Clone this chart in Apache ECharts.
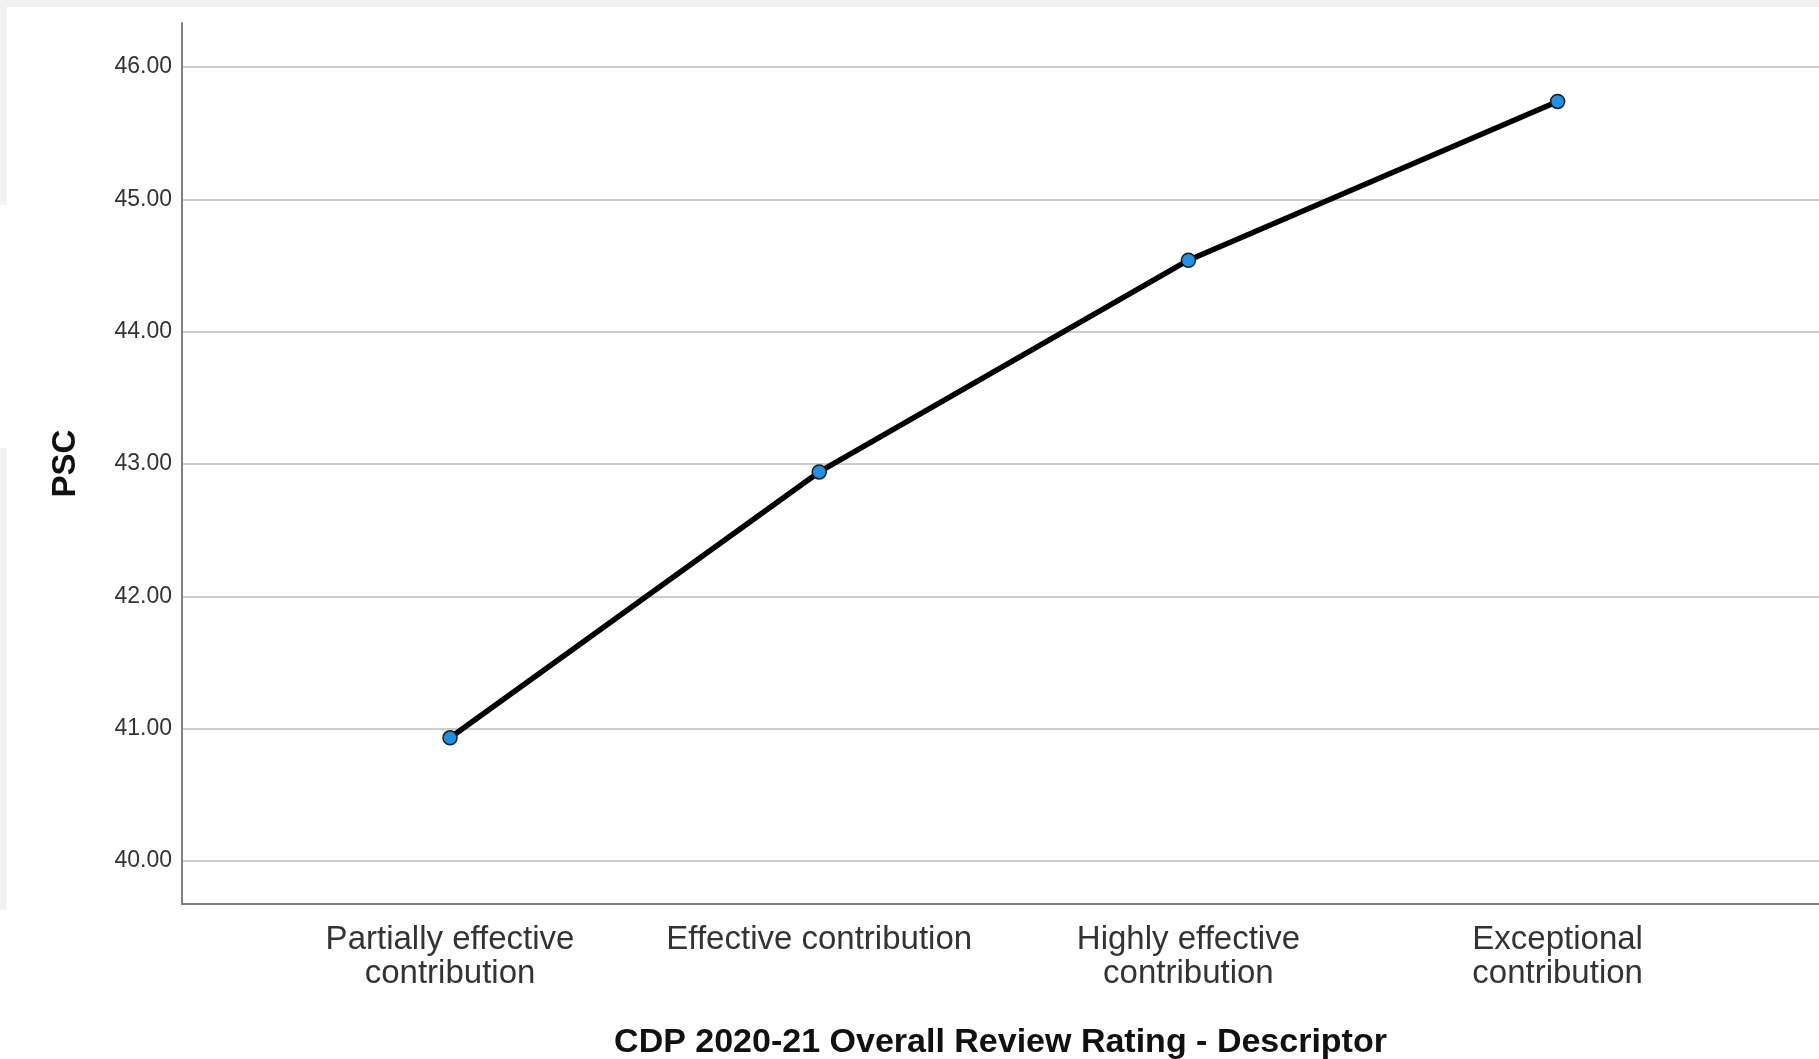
<!DOCTYPE html>
<html>
<head>
<meta charset="utf-8">
<script src="https://cdn.jsdelivr.net/npm/echarts@6/dist/echarts.min.js"></script>
<style>
html,body{margin:0;padding:0;background:#fff;}
#c{width:1819px;height:1059px;}
</style>
</head>
<body>
<div id="c"></div>
<script>
const categories = ['Partially effective\ncontribution', 'Effective contribution', 'Highly effective\ncontribution', 'Exceptional\ncontribution'];
const pscValues = [40.93, 42.94, 44.54, 45.74];
const yTicks = [40, 41, 42, 43, 44, 45, 46];
const xTicks = [0, 1, 2, 3];
const xTitle = 'CDP 2020-21 Overall Review Rating - Descriptor';
const yTitle = 'PSC';

const chart = echarts.init(document.getElementById('c'), null, {renderer: 'canvas'});
const seriesData = pscValues.map((v, i) => [i, v]);

chart.setOption({
  backgroundColor: '#ffffff',
  animation: false,
  graphic: [
    {type: 'rect', shape: {x: 0, y: 0, width: 1819, height: 7}, style: {fill: '#f2f2f2'}, z: -10},
    {type: 'rect', shape: {x: 0, y: 0, width: 7, height: 205}, style: {fill: '#f2f2f2'}, z: -10},
    {type: 'rect', shape: {x: 0, y: 448, width: 7, height: 462}, style: {fill: '#f2f2f2'}, z: -10}
  ],
  grid: {left: 182, right: 0, top: 23, bottom: 155, containLabel: false, outerBoundsMode: 'none'},
  xAxis: {
    type: 'value',
    min: -0.726,
    max: 3.708,
    splitLine: {show: false},
    axisLine: {show: true, onZero: false, lineStyle: {color: '#808080', width: 2}},
    axisTick: {show: false, customValues: xTicks},
    axisLabel: {
      customValues: xTicks,
      formatter: (v) => categories[Math.round(v)],
      fontFamily: '"Liberation Sans", Arial, sans-serif',
      fontSize: 33,
      lineHeight: 34,
      color: '#333',
      margin: 19,
      align: 'center'
    },
    name: xTitle,
    nameLocation: 'middle',
    nameGap: 122,
    nameTextStyle: {
      fontFamily: '"Liberation Sans", Arial, sans-serif',
      fontWeight: 'bold',
      fontSize: 34,
      color: '#111'
    }
  },
  yAxis: {
    type: 'value',
    min: 39.674,
    max: 46.333,
    axisLine: {show: true, onZero: false, lineStyle: {color: '#808080', width: 2}},
    axisTick: {show: false, customValues: yTicks},
    splitLine: {show: true, lineStyle: {color: '#cccccc', width: 2}},
    axisLabel: {
      customValues: yTicks,
      formatter: (v) => v.toFixed(2),
      fontFamily: '"Liberation Sans", Arial, sans-serif',
      fontSize: 23,
      color: '#333',
      margin: 10
    },
    name: yTitle,
    nameLocation: 'middle',
    nameGap: 100,
    nameRotate: 90,
    nameTextStyle: {
      fontFamily: '"Liberation Sans", Arial, sans-serif',
      fontWeight: 'bold',
      fontSize: 33,
      color: '#111'
    }
  },
  series: [{
    type: 'line',
    data: seriesData,
    lineStyle: {color: '#000', width: 5.5},
    symbol: 'circle',
    symbolSize: 14,
    itemStyle: {color: '#1e90e6', borderColor: '#1a1a1a', borderWidth: 1.5},
    z: 5
  }]
});
</script>
</body>
</html>
